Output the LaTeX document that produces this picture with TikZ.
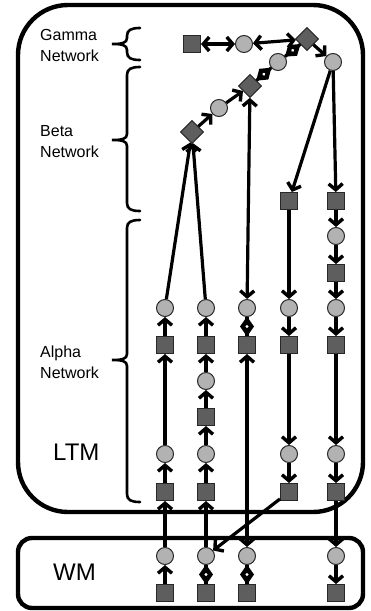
\documentclass[tikz,border=0pt]{standalone}
\usepackage{fontspec}
\setmainfont{Liberation Sans}
\usepackage{xcolor}
\definecolor{Col1}{RGB}{178,178,178}
\definecolor{Col2}{RGB}{94,94,94}
\definecolor{Col5}{RGB}{40,40,40}
\usepackage{tikz}
\usetikzlibrary{arrows.meta}
\usetikzlibrary{decorations.markings}
\tikzstyle{Cond}=[circle,draw=Col5,fill=Col1,line width=1pt,inner sep=0pt,
minimum size=17pt]
\tikzstyle{Test}=[rectangle,draw=Col5,fill=Col2,line width=1pt,inner sep=0pt,
minimum size=17pt]
\tikzstyle{Join}=[Test,rotate=45,minimum size=16pt]
\tikzstyle{Edge}=[draw=black,line width=3.2pt]
\tikzstyle{Arc}=[Edge,-{Straight Barb[length=6pt,width=14pt,line width=3.4pt]}]
\tikzstyle{BiArc}=[Edge,{Straight Barb[length=6pt,width=14pt,line width=3.4pt]}-{Straight Barb[length=6pt,width=14pt,line width=3.4pt]}]
\tikzstyle{Link}=[Edge,postaction={decorate},decoration={markings,
mark=at position .5 with {\fill[black](-10pt,0pt)--(0pt,7pt)--(10pt,0pt)--(0pt,-7pt)--cycle;
\fill[white](0pt,0pt)circle(1.6pt);}}]
\tikzstyle{Box}=[draw=black,line width=4.4pt]
\tikzstyle{NetLabel}=[anchor=west,inner sep=0pt,align=left,
font=\fontsize{16}{21}\selectfont]
\tikzstyle{MemLabel}=[anchor=base west,inner sep=0pt,font=\fontsize{24}{28}\selectfont]
% curly bracket: top, tip, bottom
\newcommand{\NetBrace}[3]{%
  \draw[line width=2.6pt,line cap=round](140,#1) .. controls (131,#1) and (127,#1+2) .. (127,#1+8)
    --(127,#2-6) .. controls (127,#2-1) and (122,#2) .. (112,#2)
    .. controls (122,#2) and (127,#2+1) .. (127,#2+6)
    --(127,#3-8) .. controls (127,#3-2) and (131,#3) .. (140,#3);}

\begin{document}
\begin{tikzpicture}[x=1pt,y=-1pt]
            \useasboundingbox(0,0)rectangle(370,611);
            \draw[Box,rounded corners=50pt](18,5)rectangle(363,512);
            \draw[Box,rounded corners=14pt](18,538)rectangle(363,608);
            \NetBrace{28}{44}{60}
            \NetBrace{67}{140}{211}
            \NetBrace{220}{360}{502}
            \node[NetLabel](gl)at(40,45){Gamma\\Network};
            \node[NetLabel](bl)at(40,142){Beta\\Network};
            \node[NetLabel](al)at(40,362){Alpha\\Network};
            \node[MemLabel](ltm)at(53,460){LTM};
            \node[MemLabel](wm)at(53,580){WM};
            % gamma / beta
            \node[Test](g1)at(192,44){};
            \node[Cond](g2)at(244,44){};
            \node[Join](g3)at(307,39){};
            \node[Cond](b4)at(278,62){};
            \node[Cond](b5)at(333,62){};
            \node[Join](b3)at(250,86){};
            \node[Cond](b2)at(219,108){};
            \node[Join](b1)at(192,132){};
            % alpha, column 1
            \node[Cond](14)at(165,308){};
            \node[Test](15)at(165,345){};
            \node[Cond](18)at(165,454){};
            \node[Test](19)at(165,492){};
            % column 2
            \node[Cond](24)at(206,308){};
            \node[Test](25)at(206,345){};
            \node[Cond](26)at(206,381){};
            \node[Test](27)at(206,417){};
            \node[Cond](28)at(206,454){};
            \node[Test](29)at(206,492){};
            % column 3
            \node[Cond](34)at(247,308){};
            \node[Test](35)at(247,345){};
            % column 4
            \node[Test](41)at(289,201){};
            \node[Cond](44)at(289,308){};
            \node[Test](45)at(289,345){};
            \node[Cond](48)at(289,454){};
            \node[Test](49)at(289,492){};
            % column 5
            \node[Test](51)at(336,201){};
            \node[Cond](52)at(336,236){};
            \node[Test](53)at(336,273){};
            \node[Cond](54)at(336,308){};
            \node[Test](55)at(336,345){};
            \node[Cond](58)at(336,454){};
            \node[Test](59)at(336,492){};
            % working memory
            \node[Cond](m11)at(165,556){};
            \node[Test](m12)at(165,593){};
            \node[Cond](m21)at(206,556){};
            \node[Test](m22)at(206,593){};
            \node[Cond](m31)at(247,556){};
            \node[Test](m32)at(247,593){};
            \node[Cond](m51)at(336,556){};
            \node[Test](m52)at(336,593){};
            %
            \draw[BiArc](g1)--(g2);
            \draw[BiArc](g2)--(g3);
            \draw[Link](b4)--(g3);
            \draw[Link](b3)--(b4);
            \draw[Arc](b2)--(b3);
            \draw[Arc](b1)--(b2);
            \draw[Arc](g3)--(b5);
            \draw[Arc](b5)--(41);
            \draw[Arc](b5)--(51);
            \draw[Arc](14)--(b1);
            \draw[Arc](24)--(b1);
            \draw[BiArc](b3)--(34);
            %
            \draw[Arc](m12)--(m11);
            \draw[Arc](m11)--(19);
            \draw[Arc](19)--(18);
            \draw[Arc](18)--(15);
            \draw[Arc](15)--(14);
            %
            \draw[Link](m22)--(m21);
            \draw[Arc](m21)--(29);
            \draw[Arc](29)--(28);
            \draw[Arc](28)--(27);
            \draw[Arc](27)--(26);
            \draw[Arc](26)--(25);
            \draw[Arc](25)--(24);
            %
            \draw[Link](34)--(35);
            \draw[BiArc](35)--(m31);
            \draw[Link](m31)--(m32);
            %
            \draw[Arc](41)--(44);
            \draw[Arc](44)--(45);
            \draw[Arc](45)--(48);
            \draw[Arc](48)--(49);
            \draw[Arc](49)--(m21);
            %
            \draw[Arc](51)--(52);
            \draw[Arc](52)--(53);
            \draw[Arc](53)--(54);
            \draw[Arc](54)--(55);
            \draw[Arc](55)--(58);
            \draw[Arc](58)--(59);
            \draw[Arc](59)--(m51);
            \draw[Arc](m51)--(m52);
\end{tikzpicture}
\end{document}
